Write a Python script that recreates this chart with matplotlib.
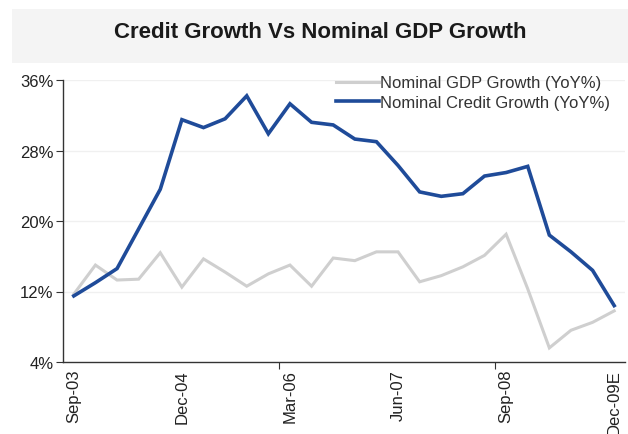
import matplotlib.pyplot as plt
from matplotlib.patches import Rectangle
from matplotlib.ticker import FixedLocator, FixedFormatter

# quarterly data, Sep-03 .. Dec-09E
quarters = list(range(26))
tick_labels = ['Sep-03', 'Dec-04', 'Mar-06', 'Jun-07', 'Sep-08', 'Dec-09E']
gdp_growth = [11.7, 15.0, 13.3, 13.4, 16.4, 12.5, 15.7, 14.2, 12.6, 14.0,
              15.0, 12.6, 15.8, 15.5, 16.5, 16.5, 13.1, 13.8, 14.8, 16.1,
              18.5, 12.3, 5.6, 7.6, 8.5, 9.8]
credit_growth = [11.5, 13.0, 14.6, 19.1, 23.6, 31.5, 30.6, 31.6, 34.2, 29.9,
                 33.3, 31.2, 30.9, 29.3, 29.0, 26.3, 23.3, 22.8, 23.1, 25.1,
                 25.5, 26.2, 18.4, 16.5, 14.4, 10.4]

plt.rcParams['font.family'] = ['Liberation Sans', 'DejaVu Sans']

fig = plt.figure(figsize=(6.28, 4.35), dpi=100)
fig.patch.set_facecolor('white')

# light grey band behind the title
fig.patches.append(Rectangle((12 / 628, 1 - 64 / 435), 616 / 628, 54 / 435,
                             transform=fig.transFigure, facecolor='#f4f4f4',
                             edgecolor='none', zorder=0))
fig.text(320 / 628, 1 - 33 / 435, 'Credit Growth Vs Nominal GDP Growth',
         ha='center', va='center', fontsize=16, fontweight='bold', color='#1a1a1a')

ax = fig.add_axes([63 / 628, 1 - 363 / 435, 562 / 628, 282 / 435])
ax.set_facecolor('white')

ax.plot(quarters, gdp_growth, color='#cfcfcf', lw=2.2, label='Nominal GDP Growth (YoY%)',
        solid_joinstyle='miter')
ax.plot(quarters, credit_growth, color='#1f4b99', lw=2.6, label='Nominal Credit Growth (YoY%)',
        solid_joinstyle='miter')

ax.set_xlim(-0.5, 25.5)
ax.set_ylim(4, 36)
ax.set_yticks([4, 12, 20, 28, 36])
ax.set_yticklabels(['4%', '12%', '20%', '28%', '36%'])
for y in [12, 20, 28, 36]:
    ax.axhline(y, color='#f0f0f0', lw=1, zorder=0)

# tick marks between categories, labels at category centres
ax.xaxis.set_major_locator(FixedLocator([9.5, 19.5]))
ax.xaxis.set_major_formatter(FixedFormatter(['', '']))
ax.xaxis.set_minor_locator(FixedLocator([0, 5, 10, 15, 20, 25]))
ax.xaxis.set_minor_formatter(FixedFormatter(tick_labels))
ax.tick_params(axis='x', which='minor', length=0, rotation=90, labelsize=12, pad=5,
               labelcolor='#222222')
ax.tick_params(axis='x', which='major', length=5, color='#333333')
ax.tick_params(axis='y', length=5, color='#333333', labelsize=12, pad=2, labelcolor='#222222')

for s in ['top', 'right']:
    ax.spines[s].set_visible(False)
for s in ['left', 'bottom']:
    ax.spines[s].set_color('#333333')
    ax.spines[s].set_linewidth(1)

leg = ax.legend(loc='upper right', bbox_to_anchor=(0.985, 1.04), frameon=False, fontsize=12,
                handlelength=2.6, handletextpad=0.05, labelspacing=0.25, borderaxespad=0)
for t in leg.get_texts():
    t.set_color('#333333')

fig.savefig('out.png', dpi=100)
